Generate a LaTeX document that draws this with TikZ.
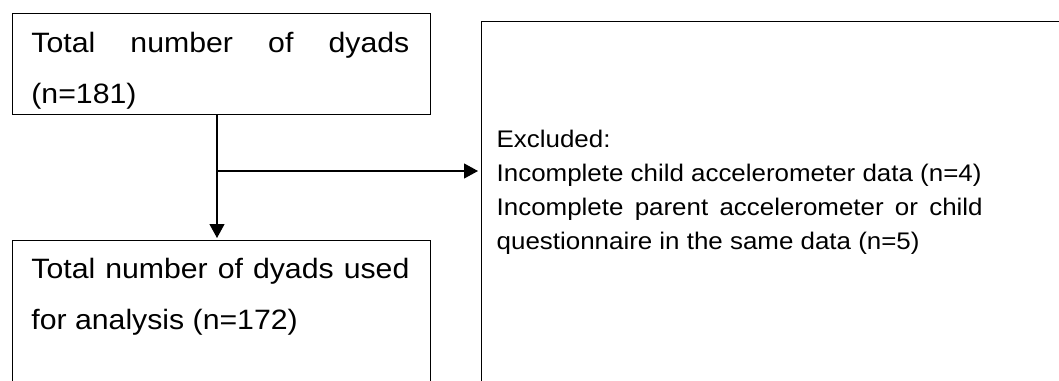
\documentclass[tikz,border=0pt]{standalone}
\usepackage{fontspec}
\setmainfont[FakeStretch=1.08]{Liberation Sans}
\usepackage{tikz}
\usetikzlibrary{calc,positioning,arrows.meta}

\begin{document}
\begin{tikzpicture}[x=0.5pt, y=-0.5pt,
    box/.style={draw, line width=0.6pt, rectangle, anchor=north west, inner sep=0pt},
    bigtext/.style={anchor=north west, inner sep=0pt, text width=189pt, align=justify,
        font=\fontsize{14}{25.5}\selectfont},
    smalltext/.style={anchor=north west, inner sep=0pt, text width=243pt, align=justify,
        font=\fontsize{12}{16.9}\selectfont},
    arr/.style={-{Triangle[length=7pt, width=7.5pt]}, line width=0.6pt}]
    \useasboundingbox (0,0) rectangle (1059,380);
    \clip (0,0) rectangle (1059,380);

    % Boxes
    \node[box, minimum width=209pt, minimum height=50.5pt] (total) at (12,13) {};
    \node[box, minimum width=209pt, minimum height=100pt] (analysis) at (12,240) {};
    \node[box, minimum width=320pt, minimum height=200pt] (excluded) at (481,21) {};

    % Texts
    \node[bigtext] (totaltxt) at (31,27.7) {\rule{0pt}{12pt}Total number of dyads (n=181)};
    \node[bigtext] (analysistxt) at (31,253.7) {\rule{0pt}{12pt}Total number of dyads used for analysis (n=172)};
    \node[smalltext] (excludedtxt) at (496.3,127.3) {\rule{0pt}{10pt}Excluded:\\
        Incomplete child accelerometer data (n=4)\\
        Incomplete parent accelerometer or child questionnaire in the same data (n=5)};

    % Arrows
    \coordinate (split) at (217,171);
    \draw[arr, shorten >=1pt] (total.south -| split) -- (analysis.north -| split);
    \draw[arr, shorten >=1.5pt] (split) -- (split -| excluded.west);
\end{tikzpicture}
\end{document}
